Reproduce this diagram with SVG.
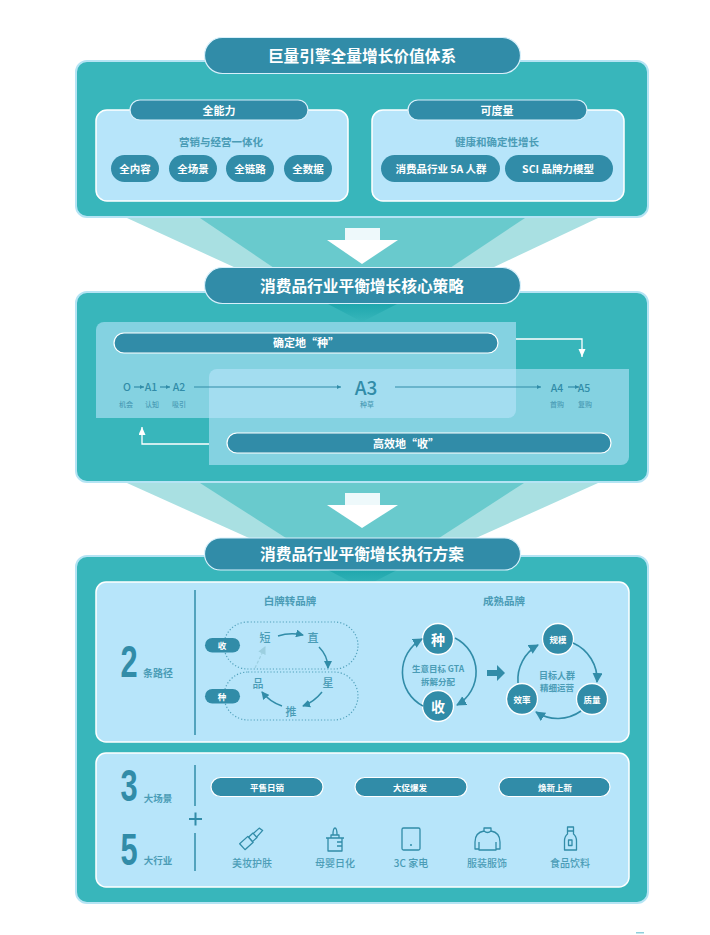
<svg xmlns="http://www.w3.org/2000/svg" width="710" height="935" viewBox="0 0 710 935">
<style>
text{font-family:"Noto Sans CJK SC","Noto Sans",sans-serif;text-anchor:middle;dominant-baseline:central;font-weight:700}
.panel{fill:#38b6bb;stroke:#b5e4f4;stroke-width:2}
.sub{fill:#b7e5fa;stroke:#fff;stroke-width:1.5}
.pill{fill:#318ca8;stroke:#d8f0fb;stroke-width:1.2}
.pw{fill:#318ca8;stroke:#fff;stroke-width:1.2}
.chip{fill:#318ca8}
.w{fill:#fff}
.t{fill:#318ca8}
.s{fill:#4a9cb6}
.num{font-family:"Liberation Sans",Arial,sans-serif;fill:#318ca8}
.glass{fill:#b7e5fa;opacity:.6}
.l{fill:none;stroke:#318ca8;stroke-width:1.2}
.a{fill:none;stroke:#318ca8;stroke-width:1.5;marker-end:url(#ah)}
.big{fill:none;stroke:#318ca8;stroke-width:1.6;marker-end:url(#ahb)}
.wa{fill:none;stroke:#fff;stroke-width:1.3;marker-end:url(#aw)}
.dot{fill:none;stroke:#318ca8;stroke-width:1.2;stroke-dasharray:1.2 2;opacity:.75}
.ic{fill:none;stroke:#318ca8;stroke-width:1.3;stroke-linejoin:round}
.c{fill:#318ca8;stroke:#fff;stroke-width:1.3}
</style>
<defs>
<marker id="ah" markerUnits="userSpaceOnUse" markerWidth="9" markerHeight="8" refX="7" refY="4" orient="auto"><path d="M0 0L8 4L0 8Z" fill="#318ca8"/></marker>
<marker id="ahb" markerUnits="userSpaceOnUse" markerWidth="11" markerHeight="11" refX="9" refY="5" orient="auto"><path d="M0 0L10 5L0 10Z" fill="#318ca8"/></marker>
<marker id="ahp" markerUnits="userSpaceOnUse" markerWidth="9" markerHeight="8" refX="7" refY="4" orient="auto"><path d="M0 0L8 4L0 8Z" fill="#9ccfe0"/></marker>
<marker id="aw" markerUnits="userSpaceOnUse" markerWidth="9" markerHeight="9" refX="8" refY="3.500" orient="auto"><path d="M0 0L8 3.500L0 7Z" fill="#fff"/></marker>
<marker id="as" markerUnits="userSpaceOnUse" markerWidth="5" markerHeight="5" refX="4" refY="2" orient="auto"><path d="M0 0L4 2L0 4Z" fill="#318ca8"/></marker>
<linearGradient id="wedge" x1="0" y1="0" x2="0" y2="1"><stop offset="0" stop-color="#1fa7ad"/><stop offset="1" stop-color="#38b6bb"/></linearGradient>
</defs>

<g id="funnels">
<polygon points="127,218 598,218 492,268 236,268" fill="#a9e0e2"/>
<polygon points="200,218 525,218 450,268 274,268" fill="#69cacd"/>
<rect x="345" y="228" width="35" height="13" fill="#eef9fb"/>
<polygon points="327,240 398,240 362,264" fill="#fff"/>
<polygon points="127,483 598,483 476,538 249,538" fill="#a9e0e2"/>
<polygon points="200,483 524,483 439,538 286,538" fill="#69cacd"/>
<rect x="345" y="493" width="35" height="13" fill="#eef9fb"/>
<polygon points="327,505 398,505 362,528" fill="#fff"/>
</g>

<g id="block-1">
<rect class="panel" x="76" y="61" width="572" height="156" rx="11"/>
<rect class="pill" x="204.500" y="37.500" width="316" height="36" rx="18"/>
<text class="w" x="362" y="55.500" font-size="15.700">巨量引擎全量增长价值体系</text>
</g>
<g id="capability">
<rect class="sub" x="96" y="110" width="252" height="91" rx="11"/>
<rect class="pill" x="130" y="100" width="178" height="20" rx="10"/>
<text class="w" x="219" y="110" font-size="11">全能力</text>
<text class="s" x="221" y="141" font-size="10.500">营销与经营一体化</text>
<rect class="chip" x="111" y="155" width="48" height="27" rx="13.500"/><text class="w" x="135" y="168.500" font-size="10.500">全内容</text>
<rect class="chip" x="169" y="155" width="48" height="27" rx="13.500"/><text class="w" x="193" y="168.500" font-size="10.500">全场景</text>
<rect class="chip" x="226" y="155" width="48" height="27" rx="13.500"/><text class="w" x="250" y="168.500" font-size="10.500">全链路</text>
<rect class="chip" x="284" y="155" width="48" height="27" rx="13.500"/><text class="w" x="308" y="168.500" font-size="10.500">全数据</text>
</g>
<g id="measurable">
<rect class="sub" x="372" y="110" width="252" height="91" rx="11"/>
<rect class="pill" x="408" y="100" width="179" height="20" rx="10"/>
<text class="w" x="497" y="110" font-size="11">可度量</text>
<text class="s" x="497" y="141" font-size="10.500">健康和确定性增长</text>
<rect class="chip" x="381" y="155" width="119" height="27" rx="13.500"/><text class="w" x="441" y="168.500" font-size="10.500">消费品行业 5A 人群</text>
<rect class="chip" x="505" y="155" width="108" height="27" rx="13.500"/><text class="w" x="558" y="168.500" font-size="10.500">SCI 品牌力模型</text>
</g>

<g id="block-2">
<rect class="panel" x="76" y="292" width="572" height="190" rx="11"/>
<polygon points="328,304 397,304 362,322" fill="url(#wedge)"/>
<rect class="pill" x="204.500" y="267.500" width="316" height="36" rx="18"/>
<text class="w" x="362" y="285.500" font-size="15.700">消费品行业平衡增长核心策略</text>
<path class="glass" d="M96 330a8 8 0 0 1 8-8H516V410a8 8 0 0 1-8 8H96Z"/>
<path class="glass" d="M209 377a8 8 0 0 1 8-8H629V457a8 8 0 0 1-8 8H209Z"/>
</g>
<g id="sow">
<rect class="pw" x="114" y="333" width="384" height="20" rx="10"/>
<text class="w" x="306" y="342" font-size="11">确定地“种”</text>
</g>
<g id="reap">
<rect class="pw" x="227" y="433" width="384" height="20" rx="10"/>
<text class="w" x="406" y="443" font-size="11">高效地“收”</text>
</g>
<g id="funnel-stages">
<text class="t" x="127" y="386" font-size="10.500" style="font-weight:500">O</text>
<text class="t" x="151" y="386" font-size="10.500" style="font-weight:500">A1</text>
<text class="t" x="179" y="386" font-size="10.500" style="font-weight:500">A2</text>
<text class="t" x="366" y="386" font-size="19" style="font-weight:500">A3</text>
<text class="t" x="557" y="387" font-size="10.500" style="font-weight:500">A4</text>
<text class="t" x="584" y="387" font-size="10.500" style="font-weight:500">A5</text>
<text class="s" x="126" y="404" font-size="7" style="font-weight:500">机会</text>
<text class="s" x="152" y="404" font-size="7" style="font-weight:500">认知</text>
<text class="s" x="179" y="404" font-size="7" style="font-weight:500">吸引</text>
<text class="s" x="367" y="404" font-size="7" style="font-weight:500">种草</text>
<text class="s" x="557" y="404" font-size="7" style="font-weight:500">首购</text>
<text class="s" x="585" y="404" font-size="7" style="font-weight:500">复购</text>
</g>

<g id="block-3">
<rect class="panel" x="76" y="556" width="572" height="347" rx="11"/>
<polygon points="328,570 397,570 362,588" fill="url(#wedge)"/>
<rect class="pill" x="204.500" y="538" width="316" height="32" rx="16"/>
<text class="w" x="362" y="553.500" font-size="15.700">消费品行业平衡增长执行方案</text>
<rect class="sub" x="96" y="582" width="533" height="160" rx="10"/>
<rect class="sub" x="96" y="753" width="533" height="134" rx="10"/>
</g>
<g id="paths-2">
<text class="num" font-size="44" transform="translate(129,662) scale(.7,1)">2</text>
<text class="s" x="158" y="672" font-size="10">条路径</text>
<line x1="195" y1="590" x2="195" y2="735" stroke="#318ca8" stroke-width="1.5"/>
<text class="s" x="290" y="600" font-size="10.500">白牌转品牌</text>
<rect class="dot" x="224" y="622" width="134" height="47" rx="23.500"/>
<rect class="dot" x="224" y="672" width="134" height="48" rx="24"/>
<rect class="chip" x="205" y="638" width="35" height="14.500" rx="7.250"/><text class="w" x="222" y="645" font-size="8.500">收</text>
<rect class="chip" x="205" y="689" width="35" height="14.500" rx="7.250"/><text class="w" x="222" y="696" font-size="8.500">种</text>
<text class="s" x="265" y="637" font-size="11" style="font-weight:500">短</text>
<text class="s" x="313" y="637" font-size="11" style="font-weight:500">直</text>
<text class="s" x="328" y="682" font-size="11" style="font-weight:500">星</text>
<text class="s" x="291" y="711" font-size="11" style="font-weight:500">推</text>
<text class="s" x="258" y="683" font-size="11" style="font-weight:500">品</text>
</g>
<g id="mature">
<text class="s" x="504" y="600" font-size="10.500">成熟品牌</text>
<circle class="c" cx="438" cy="639" r="15.500"/><text class="w" x="438" y="639" font-size="14">种</text>
<circle class="c" cx="438" cy="706" r="15.500"/><text class="w" x="438" y="706" font-size="14">收</text>
<text class="s" x="438" y="668" font-size="8.500">生意目标 GTA</text>
<text class="s" x="438" y="681" font-size="8.500">拆解分配</text>
<circle class="c" cx="558" cy="639" r="15.500"/><text class="w" x="558" y="639" font-size="8.500">规模</text>
<circle class="c" cx="592" cy="699" r="15.500"/><text class="w" x="592" y="699" font-size="8.500">质量</text>
<circle class="c" cx="522" cy="699" r="15.500"/><text class="w" x="522" y="699" font-size="8.500">效率</text>
<text class="s" x="557" y="675" font-size="9">目标人群</text>
<text class="s" x="557" y="687" font-size="8.500">精细运营</text>
</g>
<g id="scenes-3">
<text class="num" font-size="44" transform="translate(129,786) scale(.7,1)">3</text>
<text class="s" x="158" y="798" font-size="9.500">大场景</text>
<line x1="195" y1="765" x2="195" y2="806" stroke="#318ca8" stroke-width="1.5"/>
<path d="M189 819H202M195.500 812.500V825.500" stroke="#318ca8" stroke-width="2" fill="none"/>
<rect class="pw" x="211" y="777.500" width="112" height="19" rx="9.500"/><text class="w" x="267" y="787" font-size="8.500">平售日销</text>
<rect class="pw" x="355" y="777.500" width="112" height="19" rx="9.500"/><text class="w" x="410" y="787" font-size="8.500">大促爆发</text>
<rect class="pw" x="499" y="777.500" width="111" height="19" rx="9.500"/><text class="w" x="555" y="787" font-size="8.500">焕新上新</text>
</g>
<g id="industries-5">
<text class="num" font-size="44" transform="translate(129,850) scale(.7,1)">5</text>
<text class="s" x="158" y="860" font-size="9.500">大行业</text>
<line x1="195" y1="833" x2="195" y2="871" stroke="#318ca8" stroke-width="1.5"/>
<g class="ic" transform="translate(252,838) rotate(-42)"><rect x="-13" y="-4" width="11" height="8"/><rect x="-2" y="-3" width="6" height="6"/><path d="M4 -2.500L12 -2.500L13 1.500L4 2.500"/></g>
<text class="s" x="252" y="862" font-size="10" style="font-weight:500">美妆护肤</text>
<g class="ic"><path d="M326 838H344M328 838V851H342V838M331 838V835H339V838M333 835Q333 828 335 828Q337 828 337 835M337 842H342M337 846H342"/></g>
<text class="s" x="335" y="862" font-size="10" style="font-weight:500">母婴日化</text>
<g class="ic"><rect x="402" y="828" width="18" height="22" rx="1.500"/><path d="M410 845H412"/></g>
<text class="s" x="411" y="862" font-size="10" style="font-weight:500">3C 家电</text>
<g class="ic"><path d="M484 831V828H491V831M484 831C478 832 475 836 475 842V849H479V842M491 831C497 832 500 836 500 842V849H496V842M479 845V850H496V845M484 831Q487.500 834 491 831"/></g>
<text class="s" x="487" y="862" font-size="10" style="font-weight:500">服装服饰</text>
<g class="ic"><path d="M567.500 827H573.500V834C576 836 576.500 838 576.500 841V850H564.500V841C564.500 838 565 836 567.500 834ZM567.500 831H573.500"/><rect x="568.500" y="840" width="3.500" height="5.500"/></g>
<text class="s" x="570" y="862" font-size="10" style="font-weight:500">食品饮料</text>
</g>

<g id="connectors">
<path class="l" d="M134 387H144" marker-end="url(#as)"/>
<path class="l" d="M160 387H170" marker-end="url(#as)"/>
<path class="l" d="M568 387H579" marker-end="url(#as)"/>
<path class="l" d="M194 387H341" marker-end="url(#as)"/>
<path class="l" d="M395 387H541" marker-end="url(#as)"/>
<path class="wa" d="M516 339H582V357"/>
<path class="wa" d="M209 444H142V427"/>
<path class="a" d="M278 636Q290 632 303 635"/>
<path class="a" d="M319 647Q328 656 328 668"/>
<path class="a" d="M322 692Q314 702 303 706"/>
<path class="a" d="M282 706Q270 702 262 692"/>
<path fill="none" stroke="#9ccfe0" stroke-width="1.2" stroke-dasharray="3 2" marker-end="url(#ahp)" d="M255 668L265 647"/>
<path class="big" d="M455 638A38 38 0 0 1 457 705"/>
<path class="big" d="M423 706A38 38 0 0 1 422 639"/>
<path class="big" d="M573 643A40 40 0 0 1 597 682"/>
<path class="big" d="M581 711A40 40 0 0 1 536 712"/>
<path class="big" d="M518 683A40 40 0 0 1 538 645"/>
<path d="M487 670H497V665L505 673L497 681V676H487Z" fill="#318ca8"/>
</g>
<rect x="636" y="932" width="8" height="1.500" fill="#8fcfdc"/>
</svg>
